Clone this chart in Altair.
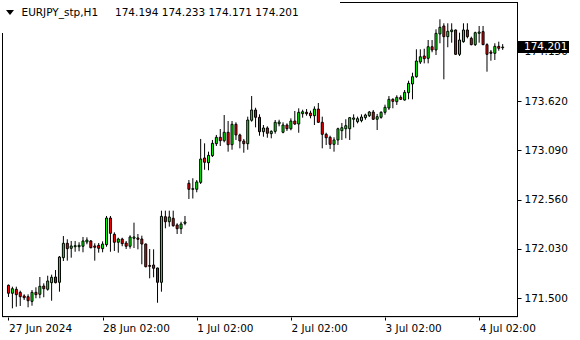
import altair as alt
import pandas as pd

symbol = "EURJPY_stp,H1"

opens = [171.637, 171.551, 171.594, 171.561, 171.522, 171.514, 171.464, 171.561, 171.540, 171.629,
         171.594, 171.665, 171.726, 171.669, 171.934, 172.089, 172.035, 172.052, 172.052, 172.057,
         172.103, 172.114, 172.060, 172.067, 172.031, 172.074, 172.361, 172.186, 172.100, 172.135,
         172.092, 172.057, 172.143, 172.146, 172.135, 172.081, 171.850, 171.855, 171.823, 171.669,
         172.375, 172.321, 172.358, 172.286, 172.246, 172.304, 172.735, 172.670, 172.670, 172.745,
         173.007, 172.956, 173.032, 173.161, 173.230, 173.193, 173.284, 173.150, 173.370, 173.255,
         173.190, 173.161, 173.413, 173.524, 173.445, 173.290, 173.330, 173.269, 173.294, 173.376,
         173.284, 173.362, 173.322, 173.405, 173.373, 173.484, 173.499, 173.491, 173.462, 173.534,
         173.391, 173.262, 173.230, 173.154, 173.201, 173.301, 173.322, 173.322, 173.424, 173.398,
         173.409, 173.441, 173.462, 173.502, 173.424, 173.445, 173.499, 173.545, 173.639, 173.613,
         173.660, 173.631, 173.710, 173.804, 173.882, 174.040, 174.105, 174.080, 174.205, 174.170,
         174.342, 174.428, 174.313, 174.367, 174.385, 174.123, 174.259, 174.385, 174.295, 174.227,
         174.349, 174.367, 174.227, 174.148, 174.134, 174.209, 174.194]
highs = [171.645, 171.622, 171.622, 171.579, 171.540, 171.540, 171.586, 171.615, 171.726, 171.658,
         171.740, 171.751, 171.801, 171.952, 172.167, 172.132, 172.114, 172.114, 172.100, 172.157,
         172.153, 172.124, 172.089, 172.092, 172.110, 172.383, 172.383, 172.207, 172.149, 172.149,
         172.114, 172.175, 172.311, 172.189, 172.171, 172.087, 172.027, 172.024, 171.826, 172.440,
         172.440, 172.440, 172.440, 172.304, 172.321, 172.383, 172.770, 172.789, 172.770, 173.212,
         173.165, 173.075, 173.201, 173.255, 173.319, 173.470, 173.405, 173.405, 173.391, 173.269,
         173.212, 173.452, 173.674, 173.548, 173.477, 173.362, 173.348, 173.305, 173.416, 173.419,
         173.391, 173.380, 173.434, 173.513, 173.542, 173.527, 173.534, 173.516, 173.563, 173.599,
         173.452, 173.279, 173.247, 173.230, 173.333, 173.384, 173.424, 173.448, 173.477, 173.452,
         173.477, 173.484, 173.513, 173.524, 173.481, 173.510, 173.581, 173.674, 173.650, 173.682,
         173.682, 173.739, 173.839, 173.925, 174.177, 174.177, 174.183, 174.277, 174.277, 174.392,
         174.500, 174.457, 174.457, 174.457, 174.390, 174.356, 174.457, 174.457, 174.313, 174.367,
         174.428, 174.428, 174.242, 174.170, 174.242, 174.259, 174.233]
lows = [171.511, 171.389, 171.406, 171.414, 171.478, 171.400, 171.417, 171.497, 171.497, 171.508,
        171.579, 171.471, 171.658, 171.568, 171.898, 171.902, 171.934, 171.998, 172.003, 171.992,
        172.078, 172.035, 171.902, 171.988, 171.992, 172.052, 171.998, 172.006, 171.988, 172.057,
        172.027, 172.031, 172.038, 172.024, 171.863, 171.830, 171.712, 171.723, 171.449, 171.568,
        172.250, 172.268, 172.268, 172.189, 172.189, 172.283, 172.566, 172.571, 172.638, 172.727,
        172.881, 172.875, 173.018, 173.136, 173.136, 173.176, 173.075, 173.096, 173.201, 173.111,
        173.064, 173.096, 173.398, 173.337, 173.247, 173.236, 173.225, 173.219, 173.269, 173.348,
        173.273, 173.298, 173.305, 173.362, 173.279, 173.441, 173.462, 173.434, 173.362, 173.387,
        173.111, 173.147, 173.104, 173.075, 173.147, 173.201, 173.219, 173.201, 173.337, 173.380,
        173.391, 173.419, 173.448, 173.416, 173.308, 173.430, 173.473, 173.524, 173.542, 173.578,
        173.631, 173.624, 173.639, 173.639, 173.871, 174.019, 174.026, 174.026, 174.145, 174.116,
        174.242, 173.854, 174.199, 174.248, 174.118, 174.105, 174.248, 174.295, 174.220, 174.213,
        174.248, 174.222, 173.936, 174.054, 174.062, 174.162, 174.171]
closes = [171.551, 171.600, 171.536, 171.514, 171.503, 171.471, 171.561, 171.536, 171.626, 171.600,
          171.683, 171.723, 171.665, 171.941, 172.089, 172.031, 172.060, 172.063, 172.067, 172.114,
          172.124, 172.041, 172.046, 172.035, 172.081, 172.361, 172.196, 172.100, 172.135, 172.085,
          172.057, 172.157, 172.157, 172.132, 172.081, 171.837, 171.841, 171.820, 171.669, 172.379,
          172.321, 172.372, 172.278, 172.246, 172.297, 172.318, 172.670, 172.677, 172.749, 172.996,
          172.961, 173.036, 173.165, 173.230, 173.193, 173.284, 173.150, 173.370, 173.255, 173.190,
          173.161, 173.416, 173.524, 173.445, 173.290, 173.330, 173.273, 173.294, 173.391, 173.394,
          173.362, 173.322, 173.405, 173.373, 173.499, 173.505, 173.484, 173.462, 173.534, 173.391,
          173.262, 173.225, 173.154, 173.201, 173.322, 173.333, 173.355, 173.441, 173.438, 173.430,
          173.448, 173.470, 173.502, 173.424, 173.452, 173.499, 173.553, 173.639, 173.617, 173.660,
          173.639, 173.714, 173.811, 173.882, 174.051, 174.097, 174.076, 174.205, 174.170, 174.349,
          174.414, 174.313, 174.371, 174.385, 174.123, 174.277, 174.385, 174.313, 174.227, 174.356,
          174.363, 174.227, 174.123, 174.134, 174.209, 174.188, 174.201]

x_tick_bars = [0, 24, 48, 72, 96, 120]
x_tick_labels = ["27 Jun 2024", "28 Jun 02:00", "1 Jul 02:00", "2 Jul 02:00", "3 Jul 02:00", "4 Jul 02:00"]
y_ticks = [171.500, 172.030, 172.560, 173.090, 173.620, 174.150]

UP, DOWN = "#00ff00", "#ff0000"
FONT = "DejaVu Sans"
FS = 10.5
W, H = 515, 315

df = pd.DataFrame({"bar": list(range(len(opens))), "open": opens, "high": highs,
                   "low": lows, "close": closes})
df["dir"] = ["up" if c > o else ("down" if c < o else "flat") for o, c in zip(opens, closes)]
last = df.iloc[[-1]].copy()
one = pd.DataFrame({"k": [0]})

label_expr = "''"
for v, lab in reversed(list(zip(x_tick_bars, x_tick_labels))):
    label_expr = f"datum.value == {v} ? '{lab}' : {label_expr}"

x_scale = alt.Scale(domain=[-0.375, 128.375], nice=False, zero=False)
y_scale = alt.Scale(domain=[171.2955, 174.6862], nice=False, zero=False)

x_axis = alt.Axis(values=x_tick_bars, labelExpr=label_expr, grid=False, domain=False,
                  tickSize=3, tickColor="black", labelAlign="left", labelFlush=False,
                  labelPadding=3, labelFont=FONT, labelFontSize=FS, labelColor="black",
                  title=None, labelOverlap=False, labelBound=False)
y_axis = alt.Axis(values=y_ticks, format=".3f", orient="right", grid=False, domain=False,
                  tickSize=4, tickColor="black", labelPadding=3, labelFont=FONT,
                  labelFontSize=FS, labelColor="black", title=None, labelOverlap=False)

X = alt.X("bar:Q", scale=x_scale, axis=x_axis)

wick = alt.Chart(df).mark_rule(color="black", strokeWidth=1).encode(
    x=X, y=alt.Y("low:Q", scale=y_scale, axis=y_axis), y2="high:Q")

body = alt.Chart(df).mark_bar(size=2, stroke="black", strokeWidth=1).encode(
    x=X, y=alt.Y("open:Q", scale=y_scale, axis=y_axis), y2="close:Q",
    color=alt.Color("dir:N", scale=alt.Scale(domain=["up", "down", "flat"],
                                             range=[UP, DOWN, "black"]), legend=None))

frame_l = alt.Chart(one).mark_rule(color="black", strokeWidth=1).encode(
    x=alt.value(0.5), y=alt.value(0), y2=alt.value(H))
frame_r = alt.Chart(one).mark_rule(color="black", strokeWidth=1).encode(
    x=alt.value(W + 0.5), y=alt.value(0), y2=alt.value(H))
frame_t = alt.Chart(one).mark_rule(color="black", strokeWidth=1).encode(
    x=alt.value(0), x2=alt.value(W + 1), y=alt.value(0.5))
frame_b = alt.Chart(one).mark_rule(color="black", strokeWidth=1).encode(
    x=alt.value(0), x2=alt.value(W + 1), y=alt.value(H - 0.5))

hdr_box = alt.Chart(one).mark_rect(color="white").encode(
    x=alt.value(-2), x2=alt.value(338), y=alt.value(-2), y2=alt.value(31))
hdr_tri = alt.Chart(one).mark_point(shape="M -1 -0.6 L 1 -0.6 L 0 0.6 Z", filled=True,
                                    color="black", size=64, opacity=1).encode(
    x=alt.value(8), y=alt.value(10.5))
hdr_sym = alt.Chart(one).mark_text(text=symbol, align="left", baseline="middle",
                                   font=FONT, fontSize=FS, color="black").encode(
    x=alt.value(19.5), y=alt.value(10.5))
ohlc_text = f"{opens[-1]:.3f} {highs[-1]:.3f} {lows[-1]:.3f} {closes[-1]:.3f}"
hdr_num = alt.Chart(one).mark_text(text=ohlc_text, align="left", baseline="middle",
                                   font=FONT, fontSize=FS, color="black").encode(
    x=alt.value(113), y=alt.value(10.5))

price_box = alt.Chart(last).mark_rule(color="black", strokeWidth=12).encode(
    x=alt.value(W), x2=alt.value(W + 52), y=alt.Y("close:Q", scale=y_scale, axis=y_axis))
price_txt = alt.Chart(last).mark_text(align="left", baseline="middle", font=FONT,
                                      fontSize=FS, color="white").encode(
    x=alt.value(W + 7), y=alt.Y("close:Q", scale=y_scale, axis=y_axis),
    text=alt.Text("close:Q", format=".3f"))

chart = alt.layer(
    frame_l, frame_r, frame_t, frame_b, wick, body,
    hdr_box, hdr_tri, hdr_sym, hdr_num, price_box, price_txt
).properties(
    width=W, height=H,
    padding={"left": 2, "top": 2, "right": 63, "bottom": 23},
    autosize=alt.AutoSizeParams(type="none"),
).configure_view(stroke=None).configure(font=FONT)

chart.save("out.html", embed_options={"renderer": "svg", "actions": False})
